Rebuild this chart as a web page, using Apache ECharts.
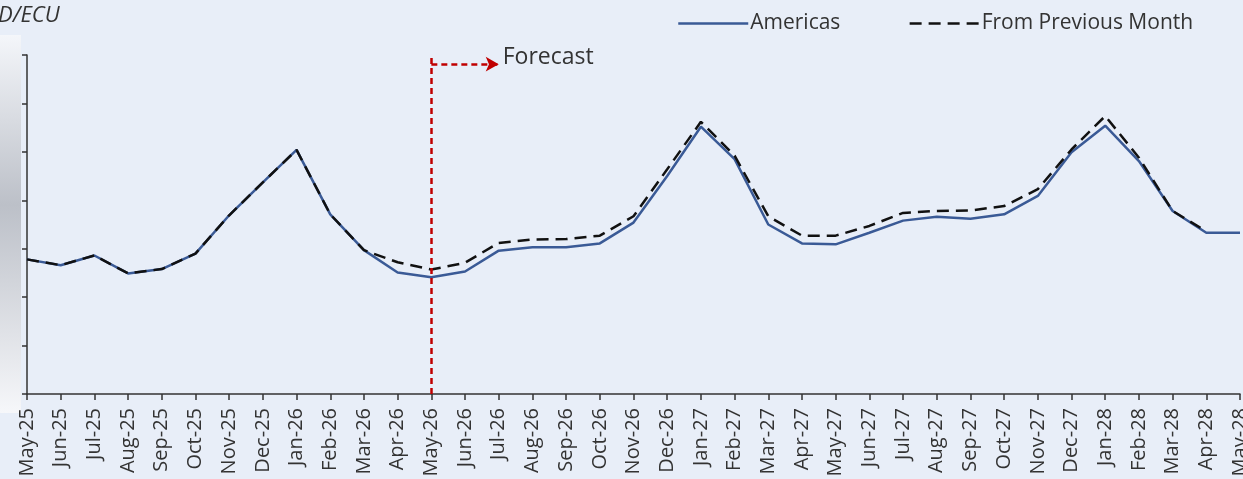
<!DOCTYPE html>
<html>
<head>
<meta charset="utf-8">
<script src="https://cdn.jsdelivr.net/npm/echarts@6/dist/echarts.min.js"></script>
<style>
  html, body { margin: 0; padding: 0; background: #E8EEF8; }
  #chart { width: 1243px; height: 479px; }
</style>
</head>
<body>
<div id="chart"></div>
<script>
// Monthly categories, May-25 through May-28
const months = [
  'May-25','Jun-25','Jul-25','Aug-25','Sep-25','Oct-25','Nov-25','Dec-25',
  'Jan-26','Feb-26','Mar-26','Apr-26','May-26','Jun-26','Jul-26','Aug-26',
  'Sep-26','Oct-26','Nov-26','Dec-26','Jan-27','Feb-27','Mar-27','Apr-27',
  'May-27','Jun-27','Jul-27','Aug-27','Sep-27','Oct-27','Nov-27','Dec-27',
  'Jan-28','Feb-28','Mar-28','Apr-28','May-28'
];

// Current outlook
const americas = [
  2.78, 2.66, 2.86, 2.49, 2.58, 2.90, 3.69, 4.37,
  5.04, 3.71, 2.97, 2.51, 2.41, 2.53, 2.96, 3.03,
  3.03, 3.11, 3.54, 4.50, 5.52, 4.85, 3.50, 3.11,
  3.09, 3.33, 3.58, 3.66, 3.62, 3.71, 4.09, 4.99,
  5.54, 4.81, 3.78, 3.33, 3.33
];

// Outlook published the month before
const previousMonth = [
  2.78, 2.66, 2.86, 2.49, 2.58, 2.90, 3.69, 4.37,
  5.04, 3.71, 2.97, 2.72, 2.57, 2.71, 3.12, 3.19,
  3.20, 3.27, 3.67, 4.64, 5.62, 4.92, 3.67, 3.27,
  3.27, 3.47, 3.74, 3.78, 3.79, 3.88, 4.23, 5.05,
  5.74, 4.88, 3.78, 3.36, null
];

const forecastStart = 'May-26';
const arrowEnd = 'Jul-26';
const axisMin = 0, axisMax = 7, axisStep = 1;
const arrowLevel = 6.81;

const chart = echarts.init(document.getElementById('chart'));

chart.setOption({
  backgroundColor: '#E8EEF8',
  animation: false,
  textStyle: { fontFamily: '"Open Sans", "Noto Sans", sans-serif' },
  graphic: [
    {
      type: 'rect',
      left: 0, top: 35, z: 0,
      shape: { width: 21, height: 378 },
      style: {
        fill: new echarts.graphic.LinearGradient(0, 0, 0, 1, [
          { offset: 0, color: '#F4F6FA' },
          { offset: 0.45, color: '#BCC0C8' },
          { offset: 1, color: '#F6F7FA' }
        ])
      }
    },
    {
      type: 'text',
      left: -2, top: 5,
      style: {
        text: 'D/ECU',
        fill: '#333',
        font: 'italic 22px "Open Sans", sans-serif'
      }
    }
  ],
  legend: {
    left: 672, top: 8,
    itemWidth: 70, itemHeight: 14, itemGap: 68,
    itemStyle: { opacity: 0 },
    lineStyle: { width: 2.5 },
    textStyle: { fontSize: 21, color: '#333', padding: [0, 0, 0, -3] },
    data: ['Americas', 'From Previous Month']
  },
  grid: {
    left: 27, right: 3, top: 55, bottom: 85,
    containLabel: false, outerBoundsMode: 'none'
  },
  xAxis: {
    type: 'category',
    data: months,
    boundaryGap: false,
    axisLine: { lineStyle: { color: '#333', width: 1.5 } },
    axisTick: { show: true, length: 6, alignWithLabel: true, lineStyle: { color: '#333', width: 1.5 } },
    axisLabel: { rotate: 90, interval: 0, fontSize: 20, color: '#333', margin: 14 },
    splitLine: { show: false }
  },
  yAxis: {
    type: 'value',
    min: axisMin, max: axisMax, interval: axisStep,
    axisLine: { show: true, lineStyle: { color: '#333', width: 1.5 } },
    axisTick: { show: true, length: 5, lineStyle: { color: '#333', width: 1.5 } },
    axisLabel: { show: false },
    splitLine: { show: false }
  },
  series: [
    {
      name: 'Americas',
      type: 'line',
      data: americas,
      symbol: 'none',
      z: 2,
      lineStyle: { color: '#3A5A96', width: 2.5 },
      itemStyle: { color: '#3A5A96' },
      markLine: {
        silent: true,
        symbol: ['none', 'none'],
        animation: false,
        data: [
          [
            { coord: [forecastStart, axisMin], lineStyle: { color: '#C00000', width: 2.5, type: [6, 4] } },
            { coord: [forecastStart, axisMax] }
          ],
          [
            {
              coord: [forecastStart, arrowLevel],
              symbol: 'none',
              lineStyle: { color: '#C00000', width: 2.5, type: [6, 4] },
              label: {
                show: true, position: 'end', formatter: 'Forecast',
                color: '#333', fontSize: 23, distance: 2,
                offset: [2, -7]
              }
            },
            { coord: [arrowEnd, arrowLevel], symbol: 'arrow', symbolSize: [11, 13] }
          ]
        ],
        label: { show: false }
      }
    },
    {
      name: 'From Previous Month',
      type: 'line',
      data: previousMonth,
      symbol: 'none',
      z: 3,
      lineStyle: { color: '#111', width: 2.5, type: [12, 7] },
      itemStyle: { color: '#111' }
    }
  ]
});
</script>
</body>
</html>
